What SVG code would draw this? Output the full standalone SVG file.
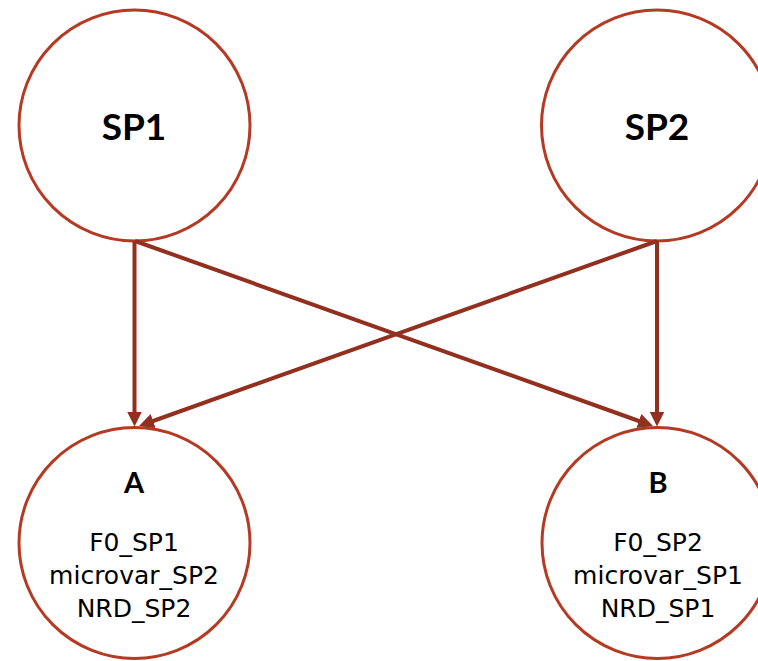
<svg xmlns="http://www.w3.org/2000/svg" width="758" height="661" viewBox="0 0 758 661">
<defs>
<style>
.node{fill:#ffffff;stroke:#b53a23;stroke-width:3}
.title{font-family:Lato,"Liberation Sans",sans-serif;font-weight:bold;fill:#000;text-anchor:middle}
.big{font-size:37px}
.mid{font-size:29px}
.body{font-family:"DejaVu Sans","Liberation Sans",sans-serif;font-size:25px;fill:#000;text-anchor:middle}
.edge{stroke:#922f1e;stroke-width:4;fill:none;marker-end:url(#arr)}
</style>
<marker id="arr" markerUnits="userSpaceOnUse" markerWidth="16" markerHeight="16" refX="4.5" refY="7.5" orient="auto">
<path d="M0,0 L15,7.5 L0,15 z" fill="#922f1e"/>
</marker>
</defs>
<rect width="758" height="661" fill="#ffffff"/>
<g id="SP1">
<circle class="node" cx="134.5" cy="125.5" r="115.5"/>
<text class="title big" x="134" y="140">SP1</text>
</g>
<g id="SP2">
<circle class="node" cx="657" cy="125.5" r="115.5"/>
<text class="title big" x="657" y="140">SP2</text>
</g>
<g id="A">
<circle class="node" cx="134.5" cy="543" r="115.5"/>
<text class="title mid" x="134" y="493">A</text>
<text class="body" x="134" y="551">F0_SP1</text>
<text class="body" x="134" y="584">microvar_SP2</text>
<text class="body" x="134" y="617">NRD_SP2</text>
</g>
<g id="B">
<circle class="node" cx="657.5" cy="543" r="115.5"/>
<text class="title mid" x="658" y="493">B</text>
<text class="body" x="658" y="551">F0_SP2</text>
<text class="body" x="658" y="584">microvar_SP1</text>
<text class="body" x="658" y="617">NRD_SP1</text>
</g>
<g id="connectors">
<line class="edge" x1="134.5" y1="241" x2="134.5" y2="416"/>
<line class="edge" x1="657" y1="241" x2="657" y2="416"/>
<line class="edge" x1="135" y1="241" x2="643.1" y2="422.5"/>
<line class="edge" x1="657" y1="241" x2="148.9" y2="422.5"/>
</g>
</svg>
